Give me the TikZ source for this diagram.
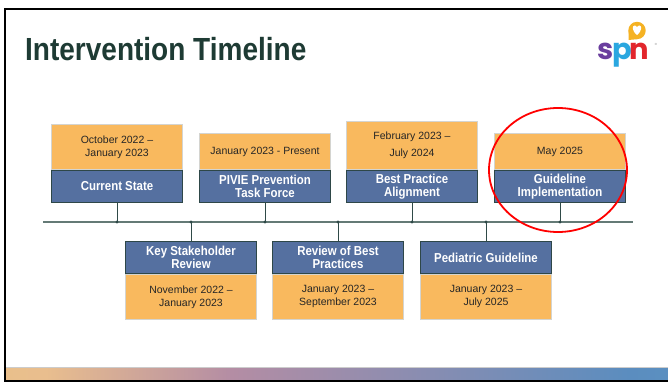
\documentclass[tikz,border=0pt]{standalone}
\usepackage{fontspec}
\setmainfont{Liberation Sans}
\newfontfamily\titlefont[FakeStretch=0.875]{Liberation Sans}
\newfontfamily\boxfont[FakeStretch=0.88]{Liberation Sans}
\newfontfamily\logofont{Poppins}
\definecolor{titlegreen}{HTML}{1E3B34}
\definecolor{orng}{HTML}{F9B95E}
\definecolor{obord}{HTML}{D4D4D0}
\definecolor{blu}{HTML}{5570A0}
\definecolor{bbord}{HTML}{2E4748}
\definecolor{tline}{HTML}{647A76}
\definecolor{stem}{HTML}{2F4A48}
\definecolor{spnpurple}{HTML}{6A3E9E}
\definecolor{spnblue}{HTML}{2AA7E0}
\definecolor{spnred}{HTML}{E2262C}
\definecolor{spnorange}{HTML}{F5B223}
\definecolor{g1}{HTML}{EEC872}
\definecolor{g2}{HTML}{E9BE8E}
\definecolor{g3}{HTML}{B48DA4}
\definecolor{g4}{HTML}{5B8DBF}
\definecolor{g5}{HTML}{5AA2C9}
\pgfdeclarehorizontalshading{barshade}{100bp}{color(0bp)=(g1); color(28bp)=(g2); color(42bp)=(g3); color(72bp)=(g4); color(100bp)=(g5)}
\tikzset{
  datebox/.style={draw=obord, line width=0.8pt, fill=orng, minimum width=131pt, inner sep=0pt, align=center, text=black!85, font=\fontsize{10.5}{13}\selectfont},
  namebox/.style={draw=bbord, line width=1pt, fill=blu, minimum width=131pt, minimum height=32pt, inner sep=0pt, align=center, text=white, font=\boxfont\bfseries\fontsize{13}{13}\selectfont},
  tl/.style={draw=tline, line width=1.3pt},
  stemline/.style={draw=stem, line width=1pt},
  dot/.style={fill=stem},
  logoletter/.style={anchor=base, inner sep=0pt, font=\logofont\bfseries\fontsize{29}{29}\selectfont}
}
\begin{document}
\begin{tikzpicture}[x=1pt,y=-1pt]
\useasboundingbox (0,0) rectangle (668,382);
\fill[white] (0,0) rectangle (668,382);
% frame
\draw[black, line width=2pt] (5,382) -- (5,9) -- (668,9);
% gradient bar
\shade[shading=barshade] (6,368) rectangle (668,380);
\draw[gray!40, line width=0.6pt] (6,367) -- (668,367);
\draw[black, line width=2pt] (5,381) -- (668,381);
% title
\node[anchor=base west, inner sep=0pt, text=titlegreen, font=\titlefont\bfseries\fontsize{32}{32}\selectfont] (title) at (25,61) {Intervention Timeline};
% logo
\fill[spnorange] (637,30.5) circle (8.7);
\fill[spnorange] (628.5,30.5) -- (628.5,40) -- (637,39.2) -- cycle;
\fill[white] (637,35) .. controls (631.5,30.5) and (632,25.5) .. (634.7,25.5) .. controls (636,25.5) and (637,26.7) .. (637,27.8) .. controls (637,26.7) and (638,25.5) .. (639.3,25.5) .. controls (642,25.5) and (642.5,30.5) .. (637,35) -- cycle;
\node[logoletter, text=spnpurple] (ls) at (605.5,60) {s};
\node[logoletter, text=spnblue] (lp) at (622.5,60) {p};
\node[logoletter, text=spnred] (ln) at (639,60) {n};
\node[inner sep=0pt, text=gray, font=\fontsize{3}{3}\selectfont] (reg) at (656,44) {®};
% timeline
\coordinate (L) at (43,222);
\coordinate (R) at (633,222);
\draw[tl] (L) -- (R);
\coordinate (d1) at (117,222);
\coordinate (d2) at (191,222);
\coordinate (d3) at (265,222);
\coordinate (d4) at (338,222);
\coordinate (d5) at (412,222);
\coordinate (d6) at (486,222);
\coordinate (d7) at (560,222);
% upper boxes
\node[datebox, minimum height=45pt, anchor=south] (o1) at (117,170) {October 2022 –\\January 2023};
\node[namebox, anchor=north] (n1) at (117,170) {Current State};
\node[datebox, minimum height=36pt, anchor=south] (o3) at (265,170) {January 2023 - Present};
\node[namebox, anchor=north] (n3) at (265,170) {PIVIE Prevention\\Task Force};
\node[datebox, minimum height=48pt, anchor=south, font=\fontsize{10.5}{17}\selectfont] (o5) at (412,170) {February 2023 –\\July 2024};
\node[namebox, anchor=north] (n5) at (412,170) {Best Practice\\Alignment};
\node[datebox, minimum height=36pt, anchor=south] (o7) at (560,170) {May 2025};
\node[namebox, anchor=north] (n7) at (560,170) {Guideline\\Implementation};
% lower boxes
\node[namebox, anchor=south] (n2) at (191,274) {Key Stakeholder\\Review};
\node[datebox, minimum height=45pt, anchor=north] (o2) at (191,274) {November 2022 –\\January 2023};
\node[namebox, anchor=south] (n4) at (338,274) {Review of Best\\Practices};
\node[datebox, minimum height=45pt, anchor=north] (o4) at (338,274) {January 2023 –\\September 2023};
\node[namebox, anchor=south] (n6) at (486,274) {Pediatric Guideline};
\node[datebox, minimum height=45pt, anchor=north] (o6) at (486,274) {January 2023 –\\July 2025};
% stems
\draw[stemline] (n1.south) -- (d1);
\draw[stemline] (n3.south) -- (d3);
\draw[stemline] (n5.south) -- (d5);
\draw[stemline] (n7.south) -- (d7);
\draw[stemline] (n2.north) -- (d2);
\draw[stemline] (n4.north) -- (d4);
\draw[stemline] (n6.north) -- (d6);
\foreach \d in {d1,d2,d3,d4,d5,d6,d7} \fill[dot] (\d) circle (1.6);
% highlight
\draw[red, line width=1.8pt] (558,170) ellipse (69 and 62);
\end{tikzpicture}
\end{document}
